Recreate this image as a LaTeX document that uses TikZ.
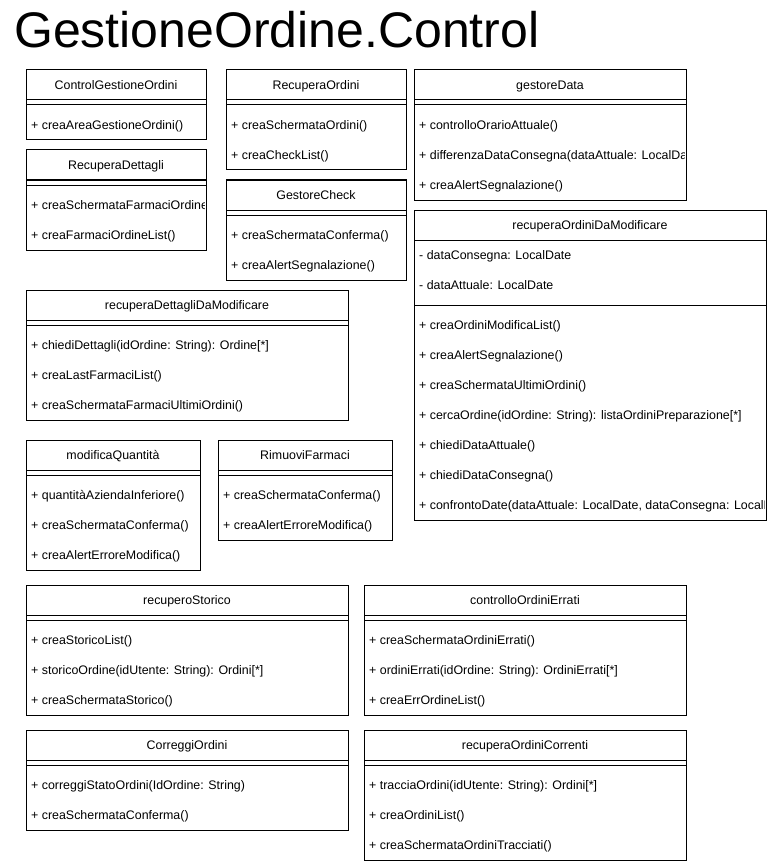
\documentclass[tikz,border=0pt]{standalone}
\usepackage{fontspec}
\setmainfont{Liberation Sans}
\usetikzlibrary{calc}
\tikzset{
  x=1pt, y=-1pt,
  clsframe/.style={draw, line width=1pt, inner sep=0pt, outer sep=0pt, anchor=north west},
  clstitle/.style={inner sep=0pt, anchor=base, font=\fontsize{12.4}{14}\selectfont},
  clsitem/.style={inner sep=0pt, anchor=base west, font=\fontsize{12.4}{14}\selectfont},
  clsline/.style={line width=1pt},
}
% #1 id, #2 x, #3 y top, #4 width, #5 number of methods, #6 title, #7 methods
\newcommand\umlclass[7]{%
  \begin{scope}
    \clip (#2,#3) rectangle ++(#4-2,40+30*#5);
    \foreach \t [count=\i] in {#7}{%
      \node[clsitem] (#1-m\i) at (#2+5,#3+40+30*\i-15+4.2) {\t};
    }
  \end{scope}
  \node[clsframe, minimum width=#4pt, minimum height=40pt+30pt*#5] (#1) at (#2,#3) {};
  \node[clstitle] (#1-t) at ($(#1.north)+(0,19.2)$) {#6};
  \draw[clsline] ($(#1.north west)+(0,30)$) -- ($(#1.north east)+(0,30)$);
  \draw[clsline] ($(#1.north west)+(0,35)$) -- ($(#1.north east)+(0,35)$);
}
\begin{document}
\begin{tikzpicture}
\fill[white] (0,0) rectangle (767,861);
\useasboundingbox (0,0) rectangle (767,861);

\node[inner sep=0pt, anchor=base west, font=\fontsize{50}{60}\selectfont] (title) at (14,48) {GestioneOrdine.Control};

\umlclass{cgo}{26}{70}{180}{1}{ControlGestioneOrdini}{+ creaAreaGestioneOrdini()}
\umlclass{rd}{26}{150}{180}{2}{RecuperaDettagli}{+ creaSchermataFarmaciOrdine(), + creaFarmaciOrdineList()}
\umlclass{ro}{226}{70}{180}{2}{RecuperaOrdini}{+ creaSchermataOrdini(), + creaCheckList()}
\umlclass{gc}{226}{180}{180}{2}{GestoreCheck}{+ creaSchermataConferma(), + creaAlertSegnalazione()}
\umlclass{gd}{414}{70}{272}{3}{gestoreData}{+ controlloOrarioAttuale(), + differenzaDataConsegna(dataAttuale: LocalDate), + creaAlertSegnalazione()}
\umlclass{rddm}{26}{290}{322}{3}{recuperaDettagliDaModificare}{+ chiediDettagli(idOrdine: String): Ordine[*], + creaLastFarmaciList(), + creaSchermataFarmaciUltimiOrdini()}
\umlclass{mq}{26}{440}{174}{3}{modificaQuantità}{+ quantitàAziendaInferiore(), + creaSchermataConferma(), + creaAlertErroreModifica()}
\umlclass{rf}{218}{440}{174}{2}{RimuoviFarmaci}{+ creaSchermataConferma(), + creaAlertErroreModifica()}
\umlclass{rs}{26}{585}{322}{3}{recuperoStorico}{+ creaStoricoList(), + storicoOrdine(idUtente: String): Ordini[*], + creaSchermataStorico()}
\umlclass{coe}{364}{585}{322}{3}{controlloOrdiniErrati}{+ creaSchermataOrdiniErrati(), + ordiniErrati(idOrdine: String): OrdiniErrati[*], + creaErrOrdineList()}
\umlclass{co}{26}{730}{322}{2}{CorreggiOrdini}{+ correggiStatoOrdini(IdOrdine: String), + creaSchermataConferma()}
\umlclass{roc}{364}{730}{322}{3}{recuperaOrdiniCorrenti}{+ tracciaOrdini(idUtente: String): Ordini[*], + creaOrdiniList(), + creaSchermataOrdiniTracciati()}

% recuperaOrdiniDaModificare (with attributes)
\begin{scope}
  \clip (414,210) rectangle ++(350,310);
  \node[clsitem] (rodm-a1) at (419,259.2) {- dataConsegna: LocalDate};
  \node[clsitem] (rodm-a2) at (419,289.2) {- dataAttuale: LocalDate};
  \foreach \t [count=\i] in {+ creaOrdiniModificaList(), + creaAlertSegnalazione(), + creaSchermataUltimiOrdini(), + cercaOrdine(idOrdine: String): listaOrdiniPreparazione[*], + chiediDataAttuale(), + chiediDataConsegna(), {+ confrontoDate(dataAttuale: LocalDate, dataConsegna: LocalDate)}}{%
    \node[clsitem] (rodm-m\i) at (419,325+30*\i-30+4.2) {\t};
  }
\end{scope}
\node[clsframe, minimum width=352pt, minimum height=310pt] (rodm) at (414,210) {};
\node[clstitle] (rodm-t) at ($(rodm.north)+(0,19.2)$) {recuperaOrdiniDaModificare};
\draw[clsline] ($(rodm.north west)+(0,30)$) -- ($(rodm.north east)+(0,30)$);
\draw[clsline] ($(rodm.north west)+(0,95)$) -- ($(rodm.north east)+(0,95)$);
\end{tikzpicture}
\end{document}
